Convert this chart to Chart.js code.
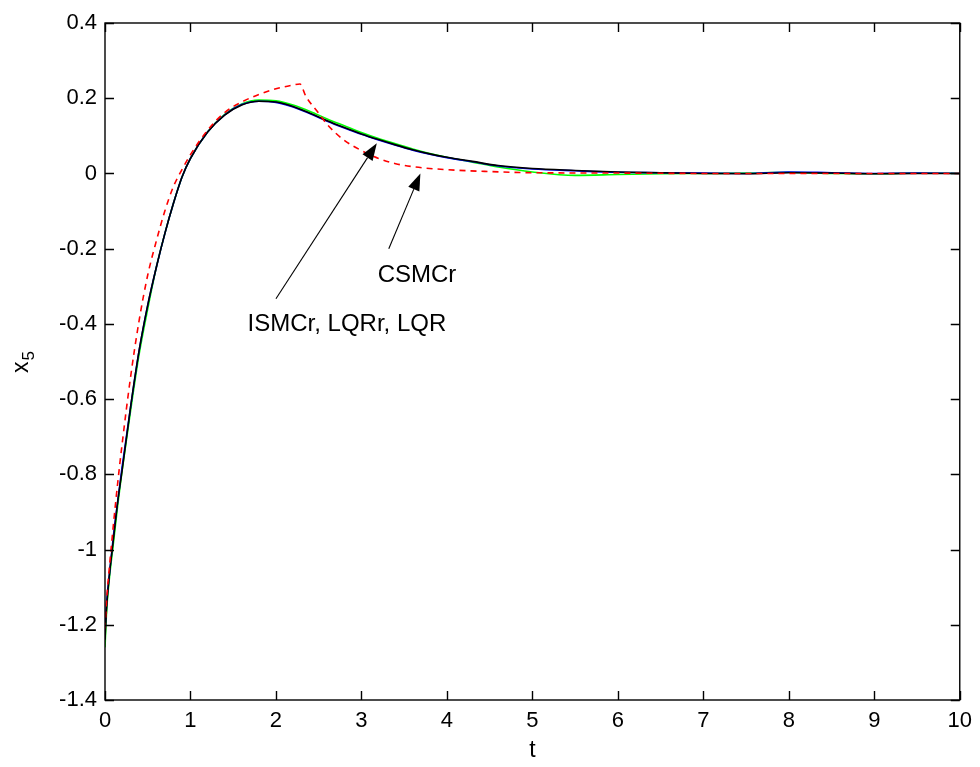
<!DOCTYPE html>
<html>
<head>
<meta charset="utf-8">
<title>x5 response</title>
<script src="https://cdn.jsdelivr.net/npm/chart.js@4.4.0/dist/chart.umd.min.js"></script>
<style>
html, body { margin: 0; padding: 0; background: #fff; }
canvas { display: block; }
</style>
</head>
<body>
<canvas id="plot" width="980" height="767"></canvas>
<script>
// time grid shared by the three smooth controllers
const tSolid = [0,0.02,0.05,0.1,0.15,0.2,0.3,0.4,0.5,0.6,0.7,0.8,0.9,1.0,1.2,1.4,1.6,1.8,2.0,2.2,2.4,2.6,2.8,3.0,3.2,3.4,3.6,3.8,4.0,4.3,4.6,5.0,5.5,6.0,6.5,7.0,7.5,8.0,8.5,9.0,9.5,10];
const ismcr = [-1.24,-1.15,-1.07,-0.97,-0.87,-0.79,-0.62,-0.47,-0.35,-0.25,-0.16,-0.08,-0.01,0.04,0.11,0.155,0.182,0.192,0.19,0.178,0.16,0.14,0.122,0.105,0.09,0.076,0.063,0.052,0.043,0.032,0.021,0.013,0.008,0.004,0.002,0.0,-0.001,0.002,0.001,-0.001,0.0,0.0];
const lqrr = [-1.22,-1.14,-1.07,-0.96,-0.87,-0.78,-0.62,-0.47,-0.35,-0.25,-0.16,-0.08,-0.01,0.04,0.11,0.156,0.183,0.192,0.189,0.177,0.159,0.139,0.121,0.104,0.089,0.075,0.062,0.051,0.042,0.031,0.02,0.012,0.007,0.003,0.002,0.001,0.0,0.004,0.002,0.0,0.001,0.0];
const lqr = [-1.26,-1.16,-1.08,-0.98,-0.88,-0.79,-0.63,-0.48,-0.36,-0.25,-0.16,-0.08,-0.01,0.04,0.11,0.157,0.185,0.195,0.193,0.182,0.165,0.145,0.127,0.109,0.093,0.079,0.065,0.053,0.043,0.03,0.017,0.004,-0.005,-0.003,-0.001,0.0,0.001,0.003,0.0,-0.001,0.001,0.0];

// conventional sliding mode controller, own time grid
const tCsmc = [0,0.02,0.05,0.1,0.15,0.2,0.3,0.4,0.5,0.6,0.7,0.8,0.9,1.0,1.2,1.4,1.6,1.8,2.0,2.2,2.28,2.35,2.5,2.6,2.8,3.0,3.2,3.4,3.6,4.0,4.5,5.0,6.0,7.0,8.0,9.0,10];
const csmcr = [-1.21,-1.13,-1.05,-0.93,-0.82,-0.72,-0.54,-0.39,-0.27,-0.18,-0.10,-0.035,0.01,0.05,0.115,0.162,0.19,0.21,0.225,0.235,0.238,0.205,0.16,0.13,0.088,0.061,0.04,0.026,0.018,0.01,0.005,0.002,0.001,0.0,0.0,0.0,0.0];

const xTicks = [0,1,2,3,4,5,6,7,8,9,10];
const yTicks = [-1.4,-1.2,-1,-0.8,-0.6,-0.4,-0.2,0,0.2,0.4];

// arrow labels, in data units: text position, arrow tail, arrow tip
const notes = [
  { text: 'ISMCr, LQRr, LQR', at: [2.83, -0.40], from: [2.0, -0.333], to: [3.18, 0.08] },
  { text: 'CSMCr', at: [3.65, -0.27], from: [3.32, -0.2], to: [3.69, 0.0] }
];

const FONT = '"Liberation Sans", Arial, Helvetica, sans-serif';

const pts = (ts, vs) => ts.map((t, i) => ({ x: t, y: vs[i] }));
const fmt = v => String(Number(v.toFixed(1)));

// box, inward ticks, axis titles and arrow labels
const framePlugin = {
  id: 'frame',
  afterDraw(chart) {
    const { ctx, chartArea: a, scales } = chart;
    const xs = scales.x, ys = scales.y;
    const tl = 9;
    ctx.save();
    ctx.strokeStyle = '#000';
    ctx.lineWidth = 1.4;
    ctx.strokeRect(a.left, a.top, a.right - a.left, a.bottom - a.top);
    ctx.beginPath();
    xTicks.forEach(v => {
      const px = Math.round(xs.getPixelForValue(v)) + 0.5;
      ctx.moveTo(px, a.bottom); ctx.lineTo(px, a.bottom - tl);
      ctx.moveTo(px, a.top); ctx.lineTo(px, a.top + tl);
    });
    yTicks.forEach(v => {
      const py = Math.round(ys.getPixelForValue(v)) + 0.5;
      ctx.moveTo(a.left, py); ctx.lineTo(a.left + tl, py);
      ctx.moveTo(a.right, py); ctx.lineTo(a.right - tl, py);
    });
    ctx.stroke();

    // axis titles
    ctx.fillStyle = '#000';
    ctx.font = '23px ' + FONT;
    ctx.textAlign = 'center';
    ctx.textBaseline = 'middle';
    ctx.fillText('t', (a.left + a.right) / 2 + 0, 751);

    ctx.save();
    ctx.translate(22, (a.top + a.bottom) / 2);
    ctx.rotate(-Math.PI / 2);
    ctx.textAlign = 'left';
    ctx.textBaseline = 'alphabetic';
    ctx.font = '23px ' + FONT;
    const wx = ctx.measureText('x').width;
    ctx.fillText('x', -wx, 6);
    ctx.font = '17px ' + FONT;
    ctx.fillText('5', 1, 12);
    ctx.restore();

    // arrow annotations
    ctx.lineWidth = 1.1;
    notes.forEach(n => {
      const x0 = xs.getPixelForValue(n.from[0]), y0 = ys.getPixelForValue(n.from[1]);
      const x1 = xs.getPixelForValue(n.to[0]), y1 = ys.getPixelForValue(n.to[1]);
      const ang = Math.atan2(y1 - y0, x1 - x0);
      const hl = 17, hw = 6;
      const bx = x1 - hl * Math.cos(ang), by = y1 - hl * Math.sin(ang);
      ctx.beginPath();
      ctx.moveTo(x0, y0); ctx.lineTo(bx, by);
      ctx.stroke();
      ctx.beginPath();
      ctx.moveTo(x1, y1);
      ctx.lineTo(bx + hw * Math.sin(ang), by - hw * Math.cos(ang));
      ctx.lineTo(bx - hw * Math.sin(ang), by + hw * Math.cos(ang));
      ctx.closePath();
      ctx.fill();
      ctx.font = '24px ' + FONT;
      ctx.textAlign = 'center';
      ctx.textBaseline = 'middle';
      ctx.fillText(n.text, xs.getPixelForValue(n.at[0]), ys.getPixelForValue(n.at[1]));
    });
    ctx.restore();
  }
};

const line = (data, color, dash) => ({
  data,
  borderColor: color,
  borderWidth: 1.6,
  borderDash: dash || [],
  pointRadius: 0,
  fill: false,
  cubicInterpolationMode: 'monotone'
});

new Chart(document.getElementById('plot'), {
  type: 'line',
  data: {
    datasets: [
      line(pts(tCsmc, csmcr), '#ff0000', [6, 5]),
      line(pts(tSolid, ismcr), '#000000'),
      line(pts(tSolid, lqrr), '#0000ff'),
      line(pts(tSolid, lqr), '#00ff00')
    ]
  },
  options: {
    responsive: false,
    animation: false,
    layout: { padding: { top: 23, right: 17, left: 0, bottom: 0 } },
    plugins: { legend: { display: false }, tooltip: { enabled: false } },
    scales: {
      x: {
        type: 'linear',
        min: 0, max: 10,
        grid: { display: false, drawTicks: false },
        border: { display: false },
        afterBuildTicks: s => { s.ticks = xTicks.map(v => ({ value: v })); },
        afterFit: s => { s.height = 67; },
        ticks: {
          autoSkip: false, maxRotation: 0, padding: 8, color: '#000',
          font: { family: FONT, size: 22 },
          callback: v => fmt(v)
        }
      },
      y: {
        type: 'linear',
        min: -1.4, max: 0.4,
        grid: { display: false, drawTicks: false },
        border: { display: false },
        afterBuildTicks: s => { s.ticks = yTicks.map(v => ({ value: v })); },
        afterFit: s => { s.width = 105; },
        ticks: {
          autoSkip: false, padding: 8, color: '#000',
          font: { family: FONT, size: 22 },
          callback: v => fmt(v)
        }
      }
    }
  },
  plugins: [framePlugin]
});
</script>
</body>
</html>
